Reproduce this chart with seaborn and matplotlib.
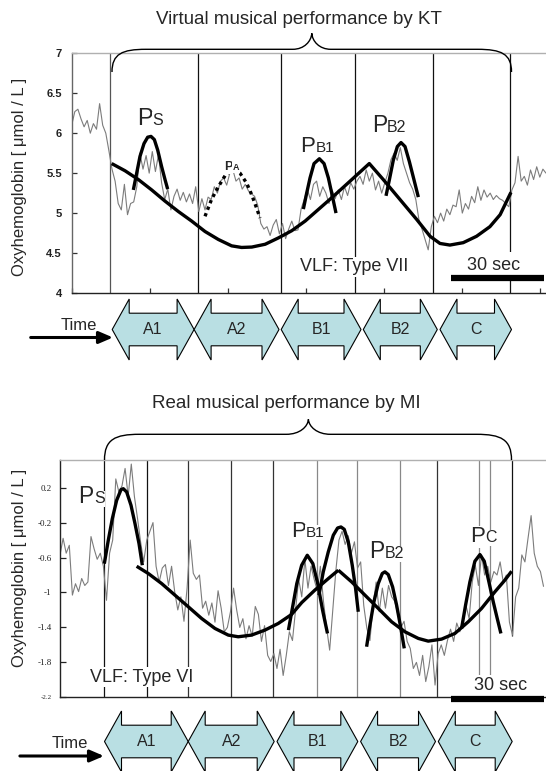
import numpy as np
import pandas as pd
import matplotlib
matplotlib.use("Agg")
import matplotlib.pyplot as plt
import seaborn as sns
from matplotlib.patches import Polygon, PathPatch
from matplotlib.path import Path

# ---------------------------------------------------------------- data
# Oxyhemoglobin traces, one sample per second
oxy_top = [
    6.10, 6.27, 6.30, 6.18, 6.08, 6.16, 6.00, 6.12, 6.05, 6.37,
    6.10, 6.00, 5.78, 5.55, 5.40, 5.12, 5.04, 5.36, 4.98, 5.12,
    5.14, 5.33, 5.75, 5.55, 5.72, 5.50, 5.77, 5.52, 5.73, 5.38,
    5.17, 5.30, 5.04, 5.21, 5.30, 5.16, 5.26, 5.14, 5.24, 5.12,
    5.33, 5.02, 5.18, 5.04, 5.20, 5.17, 5.33, 5.25, 5.40, 5.44,
    5.35, 5.50, 5.54, 5.40, 5.44, 5.30, 5.36, 5.28, 5.24, 5.21,
    5.10, 4.87, 4.80, 4.83, 4.72, 4.85, 4.92, 4.74, 4.87, 4.68,
    4.80, 4.90, 4.78, 4.79, 5.05, 5.17, 5.30, 5.17, 5.36, 5.40,
    5.21, 5.33, 5.25, 5.12, 5.29, 5.18, 5.29, 5.17, 5.33, 5.22,
    5.38, 5.30, 5.40, 5.46, 5.36, 5.54, 5.40, 5.50, 5.29, 5.40,
    5.25, 5.38, 5.50, 5.67, 5.75, 5.66, 5.82, 5.62, 5.50, 5.38,
    5.30, 5.17, 4.92, 4.80, 4.67, 4.54, 4.83, 4.96, 4.88, 5.00,
    4.90, 5.05, 4.98, 5.10, 5.08, 5.29, 5.00, 5.12, 5.05, 5.21,
    5.13, 5.33, 5.16, 5.29, 5.20, 5.25, 5.17, 5.22, 5.18, 5.16,
    5.12, 5.08, 5.29, 5.38, 5.71, 5.40, 5.46, 5.35, 5.54, 5.42,
    5.58, 5.45, 5.55, 5.50,
]
oxy_bottom = [
    -0.57, -0.38, -0.55, -0.46, -1.03, -0.90, -0.99, -0.84, -0.92, -0.88,
    -0.36, -0.50, -0.62, -0.55, -0.70, -1.09, -0.55, -0.40, 0.30, 0.15,
    0.22, 0.42, 0.10, 0.47, 0.10, -0.15, -0.42, -0.65, -0.40, -0.30,
    -0.20, -0.70, -0.88, -0.72, -0.68, -0.92, -0.70, -0.99, -1.20, -1.05,
    -1.33, -0.95, -0.40, -0.78, -0.85, -0.80, -1.18, -1.10, -1.26, -1.12,
    -1.34, -0.98, -1.18, -1.45, -1.40, -1.22, -0.95, -1.20, -1.40, -1.30,
    -1.53, -1.38, -1.50, -1.16, -1.25, -1.56, -1.38, -1.72, -1.79, -1.70,
    -1.87, -1.65, -1.95, -1.72, -1.45, -1.55, -1.20, -0.85, -1.05, -0.62,
    -0.95, -0.70, -0.85, -0.98, -0.70, -1.10, -1.40, -1.66, -1.20, -0.75,
    -0.40, -0.30, -0.45, -0.35, -0.55, -0.42, -0.72, -0.65, -1.15, -1.41,
    -1.55, -1.15, -0.88, -1.22, -0.95, -1.18, -0.92, -1.05, -1.10, -1.25,
    -1.40, -1.33, -1.56, -1.64, -1.87, -1.80, -1.95, -1.72, -2.02, -1.85,
    -1.60, -2.06, -1.70, -1.60, -1.72, -1.55, -1.42, -1.56, -1.35, -1.45,
    -1.30, -1.15, -1.30, -0.88, -0.69, -0.92, -0.57, -0.80, -0.70, -0.88,
    -0.76, -0.80, -0.65, -0.88, -0.80, -1.34, -1.49, -1.05, -0.95, -0.57,
    -0.65, -0.38, -0.12, -0.55, -0.70, -0.76, -0.93,
]
sample_step_s = 1.0

# section boundaries (seconds)
bounds_top = [12.4, 40.6, 67.5, 91.4, 116.5, 141.3]
bounds_bottom = [14.3, 28.2, 41.2, 55.1, 68.8, 82.8, 95.7, 109.7, 121.5, 135.2, 138.7, 145.7]

# fitted curves, top panel
vlf_top_t = [12.9, 17.2, 21.5, 25.8, 30.1, 34.4, 38.7, 43.0, 47.3, 51.6, 54.8, 58.1, 62.4, 66.7,
             71.0, 75.3, 80.0, 84.4, 89.8, 96.0, 100.5, 105.9, 111.3, 115.6, 118.8, 122.0,
             126.3, 130.6, 134.9, 138.2, 141.7]
vlf_top_v = [5.62, 5.53, 5.42, 5.29, 5.15, 5.02, 4.90, 4.77, 4.67, 4.59, 4.57, 4.575, 4.61, 4.69,
             4.78, 4.90, 5.06, 5.21, 5.40, 5.62, 5.42, 5.17, 4.92, 4.71, 4.62, 4.60,
             4.63, 4.71, 4.83, 4.98, 5.26]
ps_top_t = [19.88, 20.96, 22.03, 23.32, 24.51, 25.58, 26.66, 27.73, 29.02, 30.1, 30.96]
ps_top_v = [5.29, 5.50, 5.71, 5.87, 5.95, 5.96, 5.92, 5.79, 5.58, 5.42, 5.30]
pa_top_t = [43.0, 45.1, 47.3, 49.5, 51.28, 52.68, 54.29, 56.44, 58.06, 59.67, 60.74]
pa_top_v = [4.96, 5.17, 5.33, 5.47, 5.53, 5.54, 5.50, 5.375, 5.23, 5.06, 4.94]
pb1_top_t = [74.73, 75.8, 76.88, 78.17, 79.9, 81.4, 82.8, 84.1, 85.26]
pb1_top_v = [5.05, 5.25, 5.44, 5.62, 5.68, 5.62, 5.44, 5.21, 5.00]
pb2_top_t = [101.39, 102.47, 103.76, 105.05, 106.23, 107.52, 108.92, 110.42, 111.82]
pb2_top_v = [5.216, 5.416, 5.666, 5.833, 5.883, 5.833, 5.645, 5.416, 5.200]

# fitted curves, bottom panel
vlf1_bot_t = [24.73, 28.5, 32.8, 37.1, 41.4, 45.7, 50.0, 54.3, 57.5, 61.8, 66.1, 70.4, 74.7,
              78.0, 82.2, 86.6, 89.8]
vlf1_bot_v = [-0.70, -0.783, -0.898, -1.031, -1.164, -1.298, -1.412, -1.488, -1.507, -1.488,
              -1.431, -1.355, -1.252, -1.115, -0.974, -0.84, -0.745]
vlf2_bot_t = [89.8, 94.1, 98.4, 102.7, 107.0, 111.3, 115.6, 118.8, 123.1, 127.4, 131.7, 136.0,
              140.3, 143.5, 145.7]
vlf2_bot_v = [-0.745, -0.879, -1.031, -1.183, -1.336, -1.45, -1.526, -1.557, -1.534, -1.469,
              -1.336, -1.183, -0.993, -0.86, -0.757]
ps_bot_t = [14.3, 15.59, 16.88, 18.28, 19.68, 20.43, 21.51, 22.91, 24.2, 25.49, 26.56]
ps_bot_v = [-0.67, -0.40, -0.155, 0.055, 0.177, 0.188, 0.15, -0.002, -0.212, -0.44, -0.688]
pb1a_bot_t = [73.7, 75.06, 76.4, 77.97, 79.78, 81.57, 83.15, 84.72, 86.3]
pb1a_bot_v = [-1.431, -1.164, -0.898, -0.688, -0.574, -0.669, -0.898, -1.203, -1.469]
pb1b_bot_t = [83.54, 84.94, 86.55, 88.17, 89.56, 90.64, 91.71, 93.0, 94.29, 95.37, 96.23]
pb1b_bot_v = [-1.031, -0.764, -0.536, -0.345, -0.262, -0.25, -0.277, -0.421, -0.688, -0.955, -1.221]
pb2_bot_t = [98.92, 99.99, 101.28, 102.68, 103.97, 104.83, 105.91, 107.31, 108.6, 109.89, 111.07]
pb2_bot_v = [-1.621, -1.374, -1.107, -0.898, -0.783, -0.764, -0.795, -0.936, -1.145, -1.393, -1.64]
pc_bot_t = [129.56, 130.85, 132.25, 133.86, 135.48, 136.88, 138.38, 139.78, 141.07, 142.25]
pc_bot_v = [-1.412, -1.145, -0.879, -0.642, -0.566, -0.642, -0.879, -1.107, -1.298, -1.469]

sections = ["A1", "A2", "B1", "B2", "C"]
yticks_top = [4, 4.5, 5, 5.5, 6, 6.5, 7]
ytick_labels_top = ["4", "4.5", "5", "5.5", "6", "6.5", "7"]
yticks_bottom = [-2.2, -1.8, -1.4, -1, -0.6, -0.2, 0.2]
ytick_labels_bottom = ["-2.2", "-1.8", "-1.4", "-1", "-0.6", "-0.2", "0.2"]
title_top = "Virtual musical performance by KT"
title_bottom = "Real musical performance by MI"
ylabel = "Oxyhemoglobin [ \u03bcmol / L ]"

# ---------------------------------------------------------------- style
sns.set_theme(style="white")
plt.rcParams["font.family"] = ["Liberation Sans", "DejaVu Sans"]

W, H = 546, 771
fig = plt.figure(figsize=(W / 100, H / 100), dpi=100)


def px_axes(left, top, right, bottom):
    return fig.add_axes([left / W, 1 - bottom / H, (right - left) / W, (bottom - top) / H])


ax_t = px_axes(71.7, 53.3, 546, 293)
ax_b = px_axes(60, 459.7, 546, 697.3)
ov = fig.add_axes([0, 0, 1, 1], zorder=10)
ov.set_xlim(0, W)
ov.set_ylim(H, 0)
ov.axis("off")
ov.patch.set_alpha(0)

trace_color = "#7c7c7c"
fit_lw = 2.4
white_box = dict(facecolor="white", edgecolor="none", pad=1.0)

# ---------------------------------------------------------------- top panel
df_top = pd.DataFrame({"t": np.arange(len(oxy_top)) * sample_step_s, "v": oxy_top})
ax_t.set_xlim(0, 153.0)
ax_t.set_ylim(4, 7)
line_cols_top = ["#555555", "#111111", "#111111", "#111111", "#111111", "#111111"]
for b, c in zip(bounds_top, line_cols_top):
    ax_t.axvline(b, color=c, lw=0.9, zorder=1)
sns.lineplot(data=df_top, x="t", y="v", ax=ax_t, color=trace_color, lw=0.8, zorder=2)
for tt, vv in [(vlf_top_t, vlf_top_v), (ps_top_t, ps_top_v), (pb1_top_t, pb1_top_v),
               (pb2_top_t, pb2_top_v)]:
    sns.lineplot(x=tt, y=vv, ax=ax_t, color="black", lw=fit_lw, estimator=None, sort=False,
                 zorder=3, solid_capstyle="butt")
sns.lineplot(x=pa_top_t, y=pa_top_v, ax=ax_t, color="black", lw=2.4, estimator=None,
             sort=False, zorder=3, linestyle=(0, (1, 1.1)))
ax_t.text(73.6, 4.33, "VLF: Type VII", fontsize=13, ha="left", va="center", bbox=white_box, zorder=5)
ax_t.text(136.2, 4.35, "30 sec", fontsize=13, ha="center", va="center",
          bbox=dict(facecolor="white", edgecolor="none", pad=3), zorder=5)
ax_t.plot([122.4, 152.4], [4.19, 4.19], color="black", lw=4.5, solid_capstyle="butt", zorder=6)

ax_t.set_yticks(yticks_top)
ax_t.set_yticklabels(ytick_labels_top, fontsize=8, fontweight="bold", color="#222222")
ax_t.xaxis.set_major_locator(matplotlib.ticker.MultipleLocator(25.2))
ax_t.set_xticklabels([])
ax_t.tick_params(axis="y", direction="in", length=3.5, width=0.9, pad=7, left=True, colors="#333333")
ax_t.tick_params(axis="x", direction="in", length=3.5, width=0.9, bottom=True, colors="#333333")
for tl in ax_t.get_yticklabels():
    tl.set_color("#222222")
ax_t.spines["right"].set_visible(False)
ax_t.spines["top"].set_color("#b0b0b0")
ax_t.spines["left"].set_color("#666666")
ax_t.spines["bottom"].set_color("#222222")
for s in ["top", "left", "bottom"]:
    ax_t.spines[s].set_linewidth(1.0)
ax_t.set_xlabel("")
ax_t.set_ylabel(ylabel, fontsize=12, va="center")
ax_t.yaxis.set_label_coords((20 - 71.7) / (546 - 71.7), (293 - 176.5) / (293 - 53.3))

# ---------------------------------------------------------------- bottom panel
df_bot = pd.DataFrame({"t": np.arange(len(oxy_bottom)) * sample_step_s, "v": oxy_bottom})
ax_b.set_xlim(0, 156.8)
ax_b.set_ylim(-2.2, 0.52)
line_cols_bot = ["#111111", "#111111", "#333333", "#333333", "#333333", "#888888", "#888888",
                 "#888888", "#333333", "#888888", "#888888", "#111111"]
for i, (b, c) in enumerate(zip(bounds_bottom, line_cols_bot)):
    if i == len(bounds_bottom) - 1:
        ax_b.vlines(b, -1.5, 0.52, color=c, lw=0.9, zorder=1)
    else:
        ax_b.axvline(b, color=c, lw=0.9, zorder=1)
sns.lineplot(data=df_bot, x="t", y="v", ax=ax_b, color=trace_color, lw=0.8, zorder=2)
for tt, vv in [(vlf1_bot_t, vlf1_bot_v), (vlf2_bot_t, vlf2_bot_v), (ps_bot_t, ps_bot_v),
               (pb1a_bot_t, pb1a_bot_v), (pb1b_bot_t, pb1b_bot_v), (pb2_bot_t, pb2_bot_v),
               (pc_bot_t, pc_bot_v)]:
    sns.lineplot(x=tt, y=vv, ax=ax_b, color="black", lw=fit_lw, estimator=None, sort=False,
                 zorder=3, solid_capstyle="butt")
ax_b.text(9.7, -1.97, "VLF: Type VI", fontsize=13, ha="left", va="center", bbox=white_box, zorder=5)
ax_b.text(142.2, -2.07, "30 sec", fontsize=13, ha="center", va="center",
          bbox=dict(facecolor="white", edgecolor="none", pad=2), zorder=5)
ax_b.plot([126.1, 156.1], [-2.22, -2.22], color="black", lw=4.5, solid_capstyle="butt",
          zorder=6, clip_on=False)

ax_b.set_yticks(yticks_bottom)
ax_b.set_yticklabels(ytick_labels_bottom, fontsize=6.5, family=["Liberation Serif"])
ax_b.get_yticklabels()[0].set_fontsize(5)
ax_b.set_xticks([])
ax_b.tick_params(axis="y", direction="in", length=4, width=0.9, pad=6, left=True, colors="#222222")
ax_b.spines["right"].set_visible(False)
ax_b.spines["top"].set_color("#b0b0b0")
ax_b.spines["left"].set_color("#222222")
ax_b.spines["bottom"].set_color("#222222")
for s in ["top", "left", "bottom"]:
    ax_b.spines[s].set_linewidth(1.0)
ax_b.set_xlabel("")
ax_b.set_ylabel(ylabel, fontsize=12, va="center")
ax_b.yaxis.set_label_coords((19.5 - 60) / 486, (697.3 - 568) / (697.3 - 459.7))

# ---------------------------------------------------------------- overlay annotations
ov.text(299, 19, title_top, fontsize=13.5, ha="center", va="center")
ov.text(286, 403, title_bottom, fontsize=13.5, ha="center", va="center")


def brace(x0, x1, xc, yb, yh, yt, r, rc):
    verts = [
        (x0, yb),
        (x0, yh + (yb - yh) * 0.2), (x0 + r * 0.3, yh), (x0 + r, yh),
        (xc - rc, yh),
        (xc - rc * 0.4, yh), (xc - 0.5, yh - (yh - yt) * 0.5), (xc, yt),
        (xc + 0.5, yh - (yh - yt) * 0.5), (xc + rc * 0.4, yh), (xc + rc, yh),
        (x1 - r, yh),
        (x1 - r * 0.3, yh), (x1, yh + (yb - yh) * 0.2), (x1, yb),
    ]
    codes = [Path.MOVETO, Path.CURVE4, Path.CURVE4, Path.CURVE4, Path.LINETO,
             Path.CURVE4, Path.CURVE4, Path.CURVE4, Path.CURVE4, Path.CURVE4, Path.CURVE4,
             Path.LINETO, Path.CURVE4, Path.CURVE4, Path.CURVE4]
    ov.add_patch(PathPatch(Path(verts, codes), facecolor="none", edgecolor="black", lw=1.0))


brace(112, 511.5, 311.8, 72, 49.3, 33.3, 34, 19)
brace(104.5, 511.5, 308.4, 460, 434.3, 419.3, 35, 22)


def block_arrow(x0, x1, yc, label, head_half=30.5, body_half=16.3, head_len=17):
    verts = [(x0, yc), (x0 + head_len, yc - head_half), (x0 + head_len, yc - body_half),
             (x1 - head_len, yc - body_half), (x1 - head_len, yc - head_half), (x1, yc),
             (x1 - head_len, yc + head_half), (x1 - head_len, yc + body_half),
             (x0 + head_len, yc + body_half), (x0 + head_len, yc + head_half)]
    ov.add_patch(Polygon(verts, closed=True, facecolor="#b9dfe3", edgecolor="black", lw=0.8))
    ov.text((x0 + x1) / 2, yc + 0.5, label, fontsize=11.5, ha="center", va="center")


top_spans = [(112.2, 194.1), (194.1, 279.0), (281.2, 361.0), (363.3, 437.3), (440.0, 511.5)]
bot_spans = [(104.5, 188.2), (188.2, 274.2), (277.0, 357.8), (360.6, 435.5), (438.3, 512.2)]
for (a, b), lab in zip(top_spans, sections):
    block_arrow(a, b, 329.5, lab)
for (a, b), lab in zip(bot_spans, sections):
    block_arrow(a, b, 741.5, lab)

for (xs, xe, ya, xt, yt) in [(30.7, 113, 337.5, 79, 326), (19.9, 104, 756, 70, 743.5)]:
    ov.annotate("", xy=(xe, ya), xytext=(xs, ya),
                arrowprops=dict(arrowstyle="-|>,head_length=0.7,head_width=0.3", lw=2.2,
                                color="black", shrinkA=0, shrinkB=0))
    ov.text(xt, yt, "Time", fontsize=12, ha="center", va="center")

renderer = fig.canvas.get_renderer()


def peak_label(x, y, main, sub, fs_main, fs_sub, weight="normal"):
    t1 = ov.text(x, y, main, fontsize=fs_main, ha="left", va="baseline", fontweight=weight,
                 bbox=dict(facecolor="white", edgecolor="none", pad=0.5))
    bb = t1.get_window_extent(renderer)
    xr = ov.transData.inverted().transform((bb.x1, bb.y0))[0]
    ov.text(xr + 0.3, y, sub, fontsize=fs_sub, ha="left", va="baseline", fontweight=weight,
            bbox=dict(facecolor="white", edgecolor="none", pad=0.5))


peak_label(136.7, 125, "P", "S", 17, 11.5)
peak_label(224, 170, "P", "A", 9, 6.5, weight="bold")
peak_label(300.3, 152, "P", "B1", 16, 11)
peak_label(371.7, 131.7, "P", "B2", 16.5, 11.5)
peak_label(78.3, 503.3, "P", "S", 16.5, 11.5)
peak_label(291, 536.7, "P", "B1", 16, 11)
peak_label(369, 558.3, "P", "B2", 16.5, 11.5)
peak_label(470, 542.3, "P", "C", 16, 11.5)

fig.savefig("out.png", dpi=100)
